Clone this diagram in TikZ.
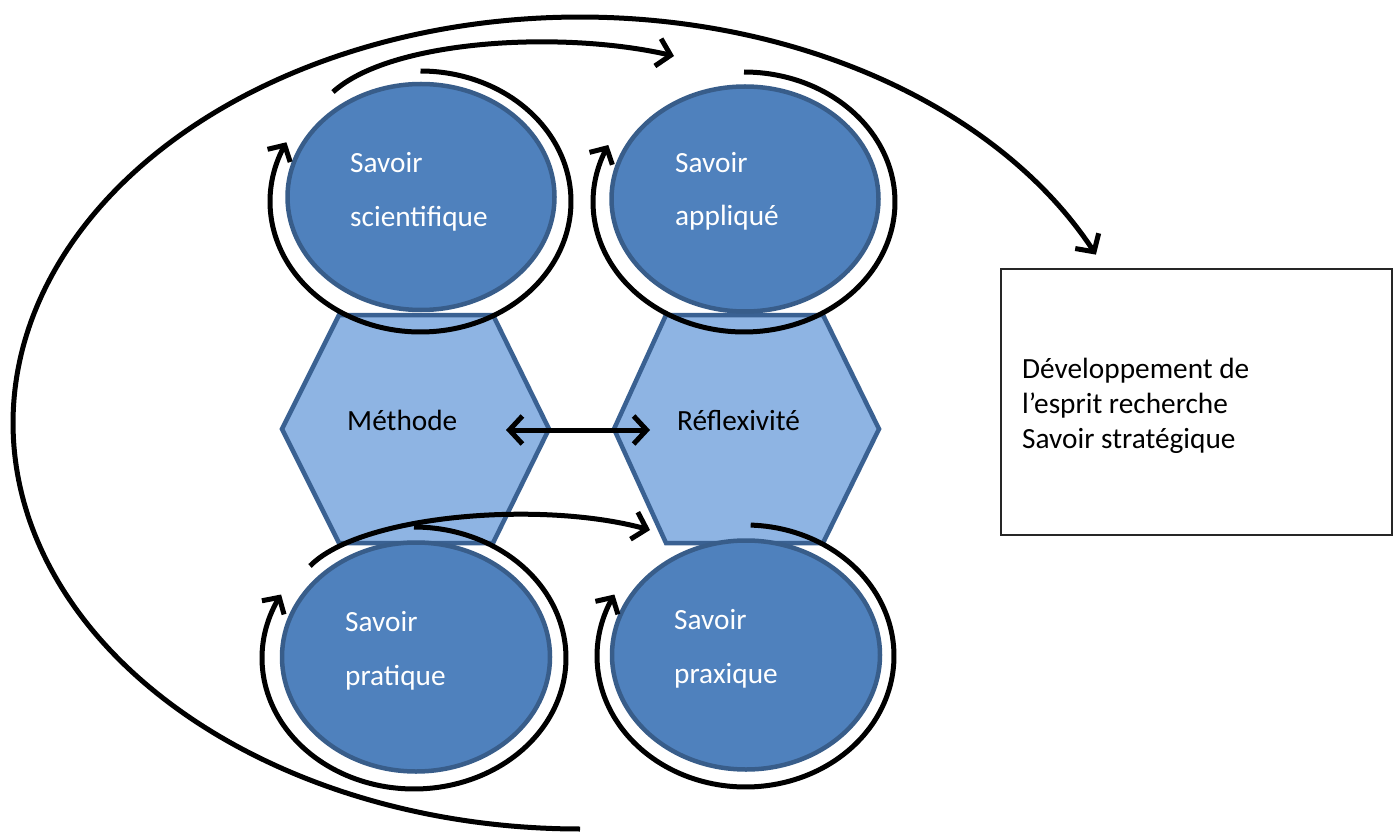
\documentclass[tikz,border=0pt]{standalone}
\usepackage{fontspec}
\setmainfont{Carlito}
\usetikzlibrary{shapes.geometric,arrows.meta}
\definecolor{ellfill}{HTML}{4F81BD}
\definecolor{ellline}{HTML}{385D8A}
\definecolor{hexfill}{HTML}{8EB4E3}
\definecolor{hexline}{HTML}{3A6192}
\tikzset{
  ellnode/.style={ellipse, fill=ellfill, draw=ellline, line width=4.5pt, inner sep=0pt},
  hexa/.style={fill=hexfill, draw=hexline, line width=4.5pt, line join=miter},
  wtxt/.style={text=white, font=\fontsize{29.3}{34}\selectfont, inner sep=0pt, anchor=base west},
  btxt/.style={text=black, font=\fontsize{29.3}{34}\selectfont, inner sep=0pt, anchor=base west},
  cyc/.style={draw=black, line width=5pt, -{Straight Barb[length=12pt,width=26pt]}},
  conn/.style={draw=black, line width=5pt, -{Straight Barb[length=13pt,width=28pt]}},
  boxst/.style={draw=black!85, line width=1.8pt}
}
\begin{document}
\begin{tikzpicture}[x=1pt,y=-1pt]
\useasboundingbox (0,0) rectangle (1397,834);
% hexagons
\draw[hexa] (282,429) -- (339,315) -- (493,315) -- (549,429) -- (493,543) -- (339,543) -- cycle;
\draw[hexa] (614,429) -- (666,315) -- (823,315) -- (879,429) -- (823,543) -- (666,543) -- cycle;
% ellipses
\node[ellnode, minimum width=267pt, minimum height=226pt] (s1) at (421,197) {};
\node[ellnode, minimum width=267pt, minimum height=225pt] (s2) at (745,199) {};
\node[ellnode, minimum width=268pt, minimum height=229pt] (s3) at (416,657) {};
\node[ellnode, minimum width=268pt, minimum height=229pt] (s4) at (746,655) {};
% texts
\node[wtxt] (t1a) at (350,173) {Savoir};
\node[wtxt] (t1b) at (350,227) {scientifique};
\node[wtxt] (t2a) at (675,173) {Savoir};
\node[wtxt] (t2b) at (675,226) {appliqué};
\node[wtxt] (t3a) at (345,631) {Savoir};
\node[wtxt] (t3b) at (345,685) {pratique};
\node[wtxt] (t4a) at (674,629) {Savoir};
\node[wtxt] (t4b) at (674,683) {praxique};
\node[btxt] (m) at (347,430) {Méthode};
\node[btxt] (r) at (677,430) {Réflexivité};
% box
\draw[boxst] (1001,269) rectangle (1392,535);
\node[btxt] (b1) at (1022,378) {Développement de};
\node[btxt] (b2) at (1022,413) {l’esprit recherche};
\node[btxt] (b3) at (1022,448) {Savoir stratégique};
% circular arrows
\draw[cyc] plot[domain=-90:207, samples=150] ({420.5+150.5*cos(\x)},{201.5+130.5*sin(\x)});
\draw[cyc] plot[domain=-90:206, samples=150] ({744+151*cos(\x)},{202+130*sin(\x)});
\draw[cyc] plot[domain=-90:209, samples=150] ({414+152*cos(\x)},{658+131*sin(\x)});
\draw[cyc] plot[domain=-88:208, samples=150] ({745.5+148.5*cos(\x)},{656+131*sin(\x)});
% connectors
\coordinate (a1) at (506,430);
\coordinate (a2) at (650,430);
\draw[line width=5pt, {Straight Barb[length=13pt,width=28pt]}-{Straight Barb[length=13pt,width=28pt]}] (a1) -- (a2);
\coordinate (top1) at (333,92);
\coordinate (top2) at (674,56);
\draw[conn] (top1) .. controls (390,40) and (560,30) .. (top2);
\coordinate (bot1) at (310,566);
\coordinate (bot2) at (650,530);
\draw[conn] (bot1) .. controls (360,515) and (540,500) .. (bot2);
% big outer arrow
\draw[conn] plot[domain=90:335.5, samples=250] ({580+567*cos(\x)},{423+406*sin(\x)});
\end{tikzpicture}
\end{document}
